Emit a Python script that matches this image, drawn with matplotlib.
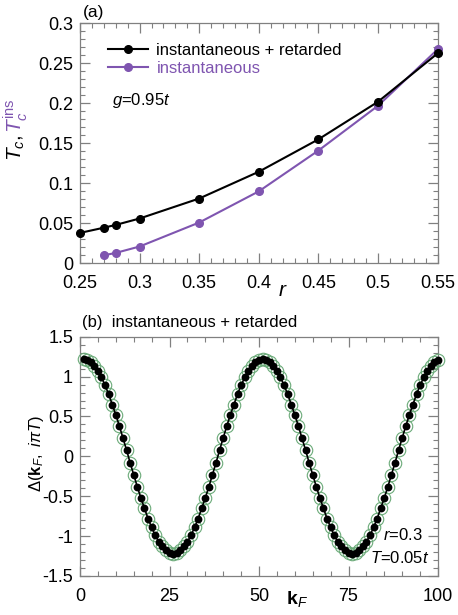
import numpy as np
import matplotlib
matplotlib.use("Agg")
import matplotlib.pyplot as plt
from matplotlib.ticker import MultipleLocator, FuncFormatter

plt.rcParams['font.family'] = ['Liberation Sans', 'DejaVu Sans']
plt.rcParams['mathtext.fontset'] = 'custom'
plt.rcParams['mathtext.rm'] = 'Liberation Sans'
plt.rcParams['mathtext.it'] = 'Liberation Sans:italic'
plt.rcParams['mathtext.bf'] = 'Liberation Sans:bold'

# ---- data panel (a) ----
r_full = [0.25, 0.27, 0.28, 0.30, 0.35, 0.40, 0.45, 0.50, 0.55]
tc_full = [0.038, 0.0445, 0.048, 0.056, 0.081, 0.1145, 0.155, 0.202, 0.2625]
r_ins = [0.27, 0.28, 0.30, 0.35, 0.40, 0.45, 0.50, 0.55]
tc_ins = [0.010, 0.013, 0.021, 0.051, 0.090, 0.141, 0.197, 0.2675]

# ---- data panel (b) ----
kF = np.arange(1, 101)
delta = [1.22, 1.21, 1.18, 1.13, 1.07, 0.99, 0.89, 0.78, 0.65, 0.52,
         0.38, 0.23, 0.08, -0.08, -0.23, -0.38, -0.52, -0.65, -0.78, -0.89,
         -0.99, -1.07, -1.13, -1.18, -1.21, -1.22, -1.21, -1.18, -1.13, -1.07,
         -0.99, -0.89, -0.78, -0.65, -0.52, -0.38, -0.23, -0.08, 0.08, 0.23,
         0.38, 0.52, 0.65, 0.78, 0.89, 0.99, 1.07, 1.13, 1.18, 1.21,
         1.22, 1.21, 1.18, 1.13, 1.07, 0.99, 0.89, 0.78, 0.65, 0.52,
         0.38, 0.23, 0.08, -0.08, -0.23, -0.38, -0.52, -0.65, -0.78, -0.89,
         -0.99, -1.07, -1.13, -1.18, -1.21, -1.22, -1.21, -1.18, -1.13, -1.07,
         -0.99, -0.89, -0.78, -0.65, -0.52, -0.38, -0.23, -0.08, 0.08, 0.23,
         0.38, 0.52, 0.65, 0.78, 0.89, 0.99, 1.07, 1.13, 1.18, 1.21]

PURPLE = '#7f55b0'
GREEN = '#6aaa78'
GRAY = '#808080'

W, H = 458, 615
fig = plt.figure(figsize=(W / 100, H / 100), dpi=100)

def px_axes(l, t, r, b):
    return fig.add_axes([l / W, 1 - b / H, (r - l) / W, (b - t) / H])

ax1 = px_axes(80, 23.3, 437.7, 263.3)
ax2 = px_axes(80, 336.7, 438, 576)

def fmt(v, pos):
    return '%g' % v

for ax in (ax1, ax2):
    for sp in ax.spines.values():
        sp.set_color(GRAY)
        sp.set_linewidth(0.9)
    ax.tick_params(which='both', direction='in', top=True, right=True,
                   color=GRAY, labelsize=13)
    ax.tick_params(axis='x', pad=8.5)
    ax.tick_params(axis='y', pad=5)
    ax.tick_params(which='major', length=7, width=0.9)
    ax.tick_params(which='minor', length=3.5, width=0.8)
    ax.xaxis.set_major_formatter(FuncFormatter(fmt))
    ax.yaxis.set_major_formatter(FuncFormatter(fmt))

# ---- panel (a) ----
ax1.plot(r_full, tc_full, '-o', color='black', lw=1.5, ms=5.5, clip_on=False,
         label='instantaneous + retarded', zorder=4)
ax1.plot(r_ins, tc_ins, '-o', color=PURPLE, lw=1.5, ms=5.5, clip_on=False,
         label='instantaneous', zorder=3)
ax1.set_xlim(0.25, 0.55)
ax1.set_ylim(0, 0.3)
ax1.xaxis.set_major_locator(MultipleLocator(0.05))
ax1.xaxis.set_minor_locator(MultipleLocator(0.01))
ax1.yaxis.set_major_locator(MultipleLocator(0.05))
ax1.yaxis.set_minor_locator(MultipleLocator(0.01))
leg = ax1.legend(loc='upper left', bbox_to_anchor=(0.06, 0.945), frameon=False,
                 fontsize=12, handlelength=2.4, handletextpad=0.5,
                 labelspacing=0.15, borderaxespad=0)
for txt, c in zip(leg.get_texts(), ['black', PURPLE]):
    txt.set_color(c)
fig.text(112 / W, 1 - 100 / H, '$g$=0.95$t$', fontsize=12, ha='left', va='center')
fig.text(83 / W, 1 - 13 / H, '(a)', fontsize=12.5, ha='left', va='center')
fig.text(283 / W, 1 - 291 / H, '$r$', fontsize=15, ha='center', va='center')

# two-colour y label
t1 = fig.text(22 / W, 1 - 161 / H, '$T_c$, ', fontsize=15, rotation=90,
              rotation_mode='anchor', ha='left', va='baseline', color='black')
fig.canvas.draw()
bb = t1.get_window_extent()
fig.text(22 / W, bb.y1 / H, r'$T_c^{\rm ins}$', fontsize=15, rotation=90,
         rotation_mode='anchor', ha='left', va='baseline', color=PURPLE)

# ---- panel (b) ----
ax2.plot(kF, delta, 'o', mfc='none', mec=GREEN, ms=9, mew=0.8, clip_on=False,
         zorder=3)
ax2.plot(kF, delta, '-o', color='black', lw=1.2, ms=4.6, clip_on=False, zorder=4)
ax2.set_xlim(0, 100)
ax2.set_ylim(-1.5, 1.5)
ax2.xaxis.set_major_locator(MultipleLocator(25))
ax2.xaxis.set_minor_locator(MultipleLocator(5))
ax2.yaxis.set_major_locator(MultipleLocator(0.5))
ax2.yaxis.set_minor_locator(MultipleLocator(0.1))
fig.text(297 / W, 1 - 599 / H, r'$\mathbf{k}_F$', fontsize=14, ha='center', va='center')
fig.text(36 / W, 1 - 453 / H, r'$\Delta(\mathbf{k}_F,\ i\pi T)$', fontsize=12,
         rotation=90, ha='center', va='center')
fig.text(82 / W, 1 - 323 / H, '(b)  instantaneous + retarded', fontsize=12,
         ha='left', va='center')
fig.text(423 / W, 1 - 535 / H, '$r$=0.3', fontsize=12, ha='right', va='center')
fig.text(429 / W, 1 - 558 / H, '$T$=0.05$t$', fontsize=12, ha='right', va='center')

fig.savefig('out.png', dpi=100)
